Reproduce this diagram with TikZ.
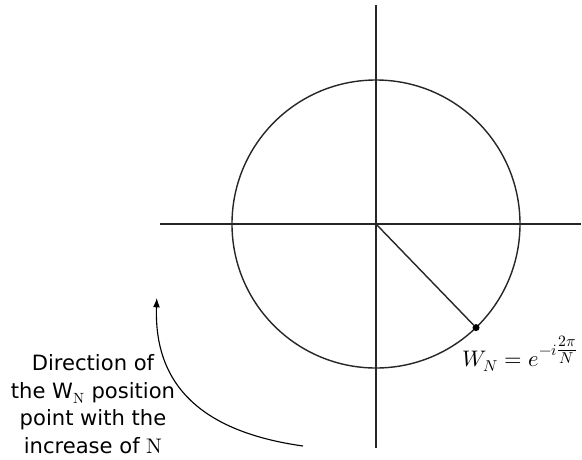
\documentclass[tikz,border=0pt]{standalone}
\usepackage{fontspec}
\usepackage{unicode-math}
\setmainfont{DejaVu Sans}
\setmathfont{Latin Modern Math}
\usetikzlibrary{arrows.meta}

\tikzset{
  axisline/.style={line width=1pt,black!85},
  unitcircle/.style={line width=1pt,black!85},
  pointdot/.style={circle,fill=black,inner sep=0pt,minimum size=5pt},
  notetext/.style={align=center,inner sep=0pt,font=\fontsize{15}{19.6}\selectfont}
}

\begin{document}
\begin{tikzpicture}[>=Latex]
\useasboundingbox (-9.4,-5.875) rectangle (5.15,5.6);

%---------------- Axes and circle ----------------
\coordinate (O) at (0,0);
\draw[axisline] (-5.4,0) -- (5.12,0);
\draw[axisline] (0,5.475) -- (0,-5.6);
\draw[unitcircle] (O) circle (3.6);

% Point W_N on the circle
\node[pointdot] (W) at (-46:3.6) {};
\draw[axisline] (O) -- (W);
\node[anchor=base west,inner sep=0pt,font=\fontsize{16}{18}\selectfont] (Wlabel) at (2.15,-3.55)
  {$W_N = e^{-i\genfrac{}{}{}{1}{2\pi}{N}}$};

%---------------- Direction note ----------------
\coordinate (arrStart) at (-1.825,-5.55);
\coordinate (arrEnd) at (-5.48,-1.85);
\draw[->,line width=0.8pt] (arrStart) to[out=172,in=-92,looseness=1.15] (arrEnd);
\node[notetext] (note) at (-7.075,-4.5)
  {Direction of\\the W$_{\symup{N}}$ position\\point with the\\increase of $\symup{N}$};

\end{tikzpicture}
\end{document}
